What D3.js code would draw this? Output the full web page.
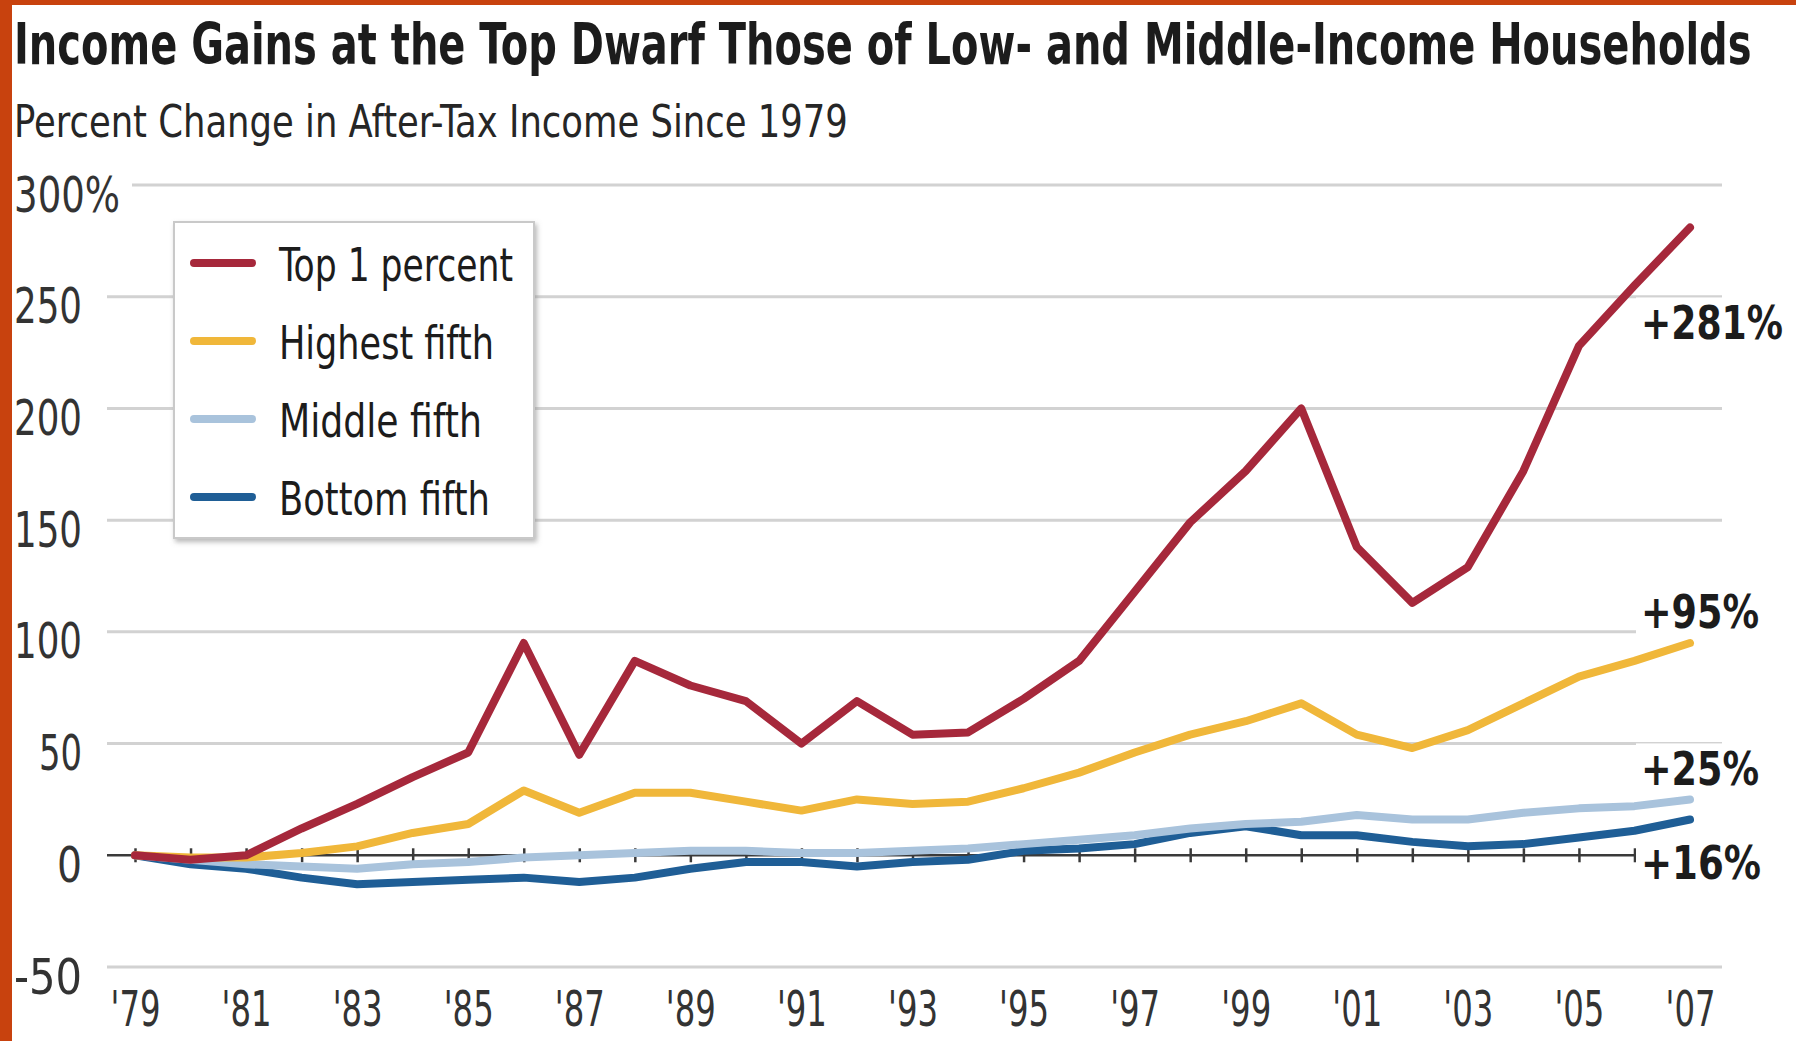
<!DOCTYPE html>
<html>
<head>
<meta charset="utf-8">
<script src="https://cdn.jsdelivr.net/npm/d3@7"></script>
<style>
  body { margin: 0; background: #fff; }
  text { font-family: "Liberation Sans Narrow", "Arial Narrow", "DejaVu Sans Condensed", "Roboto Condensed", sans-serif; fill: #1c1c1c; }
</style>
</head>
<body>
<svg id="chart" width="1796" height="1041"></svg>
<script>
// data (percent change since 1979)
const years = [1979, 1980, 1981, 1982, 1983, 1984, 1985, 1986, 1987, 1988, 1989, 1990, 1991, 1992,
  1993, 1994, 1995, 1996, 1997, 1998, 1999, 2000, 2001, 2002, 2003, 2004, 2005, 2006, 2007];
const top1 = [0, -2, 0, 12, 23, 35, 46, 95, 45, 87, 76, 69, 50, 69,
  54, 55, 70, 87, 118, 149, 172, 200, 138, 113, 129, 172, 228, 255, 281];
const highestFifth = [0, -1, -1, 1, 4, 10, 14, 29, 19, 28, 28, 24, 20, 25,
  23, 24, 30, 37, 46, 54, 60, 68, 54, 48, 56, 68, 80, 87, 95];
const middleFifth = [0, -2, -4, -5, -6, -4, -3, -1, 0, 1, 2, 2, 1, 1,
  2, 3, 5, 7, 9, 12, 14, 15, 18, 16, 16, 19, 21, 22, 25];
const bottomFifth = [0, -4, -6, -10, -13, -12, -11, -10, -12, -10, -6, -3, -3, -5,
  -3, -2, 2, 3, 5, 10, 13, 9, 9, 6, 4, 5, 8, 11, 16];
const seriesNames = ["Top 1 percent", "Highest fifth", "Middle fifth", "Bottom fifth"];
const yTicks = [-50, 0, 50, 100, 150, 200, 250, 300];
const xLabelYears = [1979, 1981, 1983, 1985, 1987, 1989, 1991, 1993, 1995, 1997, 1999, 2001, 2003, 2005, 2007];

const title = "Income Gains at the Top Dwarf Those of Low- and Middle-Income Households";
const subtitle = "Percent Change in After-Tax Income Since 1979";

// styling
const colors = ["#a6283b", "#f0b73a", "#a9c3dc", "#1f5e96"];
const legendTextW = [234, 215, 203, 211];
const endLabelDy = [112, -15, -14, 59];   // baseline offset from line end
const endLabelW = [142, 118, 118, 120];

// squeeze text horizontally to a target width (the reference uses a condensed face)
function squeeze(sel, widthFn) {
  sel.each(function (d, i) {
    const w = this.getComputedTextLength();
    const s = widthFn(d, i) / w;
    const x0 = +this.getAttribute("x") || 0;
    this.setAttribute("x", 0);
    this.setAttribute("transform", `translate(${x0},0) scale(${s},1)`);
  });
}

const svg = d3.select("#chart");

// orange frame
svg.append("rect").attr("x", 0).attr("y", 0).attr("width", 12).attr("height", 1041).attr("fill", "#c8420e");
svg.append("rect").attr("x", 0).attr("y", 0).attr("width", 1796).attr("height", 5).attr("fill", "#c8420e");

svg.append("text").attr("x", 14).attr("y", 64)
  .attr("font-size", 57).attr("font-weight", "bold")
  .text(title)
  .call(squeeze, () => 1738);
svg.append("text").attr("x", 14).attr("y", 137)
  .attr("font-size", 45)
  .style("fill", "#262626")
  .text(subtitle)
  .call(squeeze, () => 834);

const x = d3.scaleLinear().domain([1979, 2007]).range([135, 1690]);
const y = d3.scaleLinear().domain([-50, 300]).range([967, 185]);

// gridlines
svg.append("g").selectAll("line")
  .data(yTicks.filter(d => d !== 0))
  .join("line")
  .attr("x1", d => d === 300 ? 132 : 107)
  .attr("x2", 1722)
  .attr("y1", d => y(d)).attr("y2", d => y(d))
  .attr("stroke", "#d2d2d2").attr("stroke-width", 3);

// zero axis with ticks across it
svg.append("line").attr("x1", 107).attr("x2", 1722)
  .attr("y1", y(0)).attr("y2", y(0))
  .attr("stroke", "#3a3a3a").attr("stroke-width", 2.5);
const tickAxis = svg.append("g").attr("transform", `translate(0,${y(0) - 7})`)
  .call(d3.axisBottom(x).tickValues(years).tickSize(14).tickFormat(""));
tickAxis.select(".domain").remove();
tickAxis.selectAll(".tick line").attr("stroke", "#3a3a3a").attr("stroke-width", 2.5);

// y labels
const yLabel = d => d === 300 ? "300%" : String(d);
const yLabelW = d => d === 300 ? 106 : ({1: 25, 2: 43, 3: 68})[String(d).length];
const yAxis = svg.append("g").attr("transform", "translate(82,0)")
  .call(d3.axisLeft(y).tickValues(yTicks).tickSize(0).tickPadding(0).tickFormat(yLabel));
yAxis.select(".domain").remove();
yAxis.selectAll("text")
  .attr("font-size", 50).attr("dy", "0.52em")
  .attr("x", d => d === 300 ? 38 : 0)
  .style("fill", "#333")
  .call(squeeze, yLabelW);

// x labels
const xAxis = svg.append("g").attr("transform", "translate(0,988)")
  .call(d3.axisBottom(x).tickValues(xLabelYears).tickSize(0).tickPadding(0)
    .tickFormat(d => "'" + String(d).slice(2)));
xAxis.select(".domain").remove();
xAxis.selectAll("text").attr("font-size", 50).attr("dy", "0.76em")
  .style("fill", "#333")
  .call(squeeze, () => 50);

// white knockouts behind the end labels
const series = [top1, highestFifth, middleFifth, bottomFifth];
const lastIdx = years.length - 1;
const endLabels = series.map((s, i) => ({
  text: "+" + s[lastIdx] + "%",
  yb: y(s[lastIdx]) + endLabelDy[i],
  w: endLabelW[i]
}));
svg.append("g").selectAll("rect")
  .data(endLabels)
  .join("rect")
  .attr("x", 1636).attr("y", d => d.yb - 42)
  .attr("width", 160).attr("height", 48)
  .attr("fill", "#fff");

// lines (bottom drawn first)
const line = d3.line().x((d, i) => x(years[i])).y(d => y(d));
const order = [3, 2, 1, 0];
svg.append("g").selectAll("path")
  .data(order)
  .join("path")
  .attr("d", i => line(series[i]))
  .attr("fill", "none")
  .attr("stroke", i => colors[i])
  .attr("stroke-width", 8)
  .attr("stroke-linejoin", "round")
  .attr("stroke-linecap", "round");

svg.append("g").selectAll("text")
  .data(endLabels)
  .join("text")
  .attr("x", 1641).attr("y", d => d.yb)
  .attr("font-size", 47).attr("font-weight", "bold")
  .text(d => d.text)
  .call(squeeze, d => d.w);

// legend
const defs = svg.append("defs");
const f = defs.append("filter").attr("id", "shadow").attr("x", "-5%").attr("y", "-5%").attr("width", "115%").attr("height", "115%");
f.append("feDropShadow").attr("dx", 2).attr("dy", 3).attr("stdDeviation", 2.5)
  .attr("flood-color", "#888").attr("flood-opacity", 0.6);

const legend = svg.append("g").attr("transform", "translate(174,222)");
legend.append("rect").attr("width", 360).attr("height", 316)
  .attr("fill", "#fff").attr("stroke", "#c9c9c9").attr("stroke-width", 2)
  .attr("filter", "url(#shadow)");
const items = legend.selectAll("g.item")
  .data(seriesNames)
  .join("g").attr("class", "item")
  .attr("transform", (d, i) => `translate(0,${41 + i * 78})`);
items.append("line").attr("x1", 20).attr("x2", 78)
  .attr("stroke", (d, i) => colors[i]).attr("stroke-width", 8).attr("stroke-linecap", "round");
items.append("text").attr("x", 105).attr("y", 18)
  .attr("font-size", 47)
  .text(d => d)
  .call(squeeze, (d, i) => legendTextW[i]);
</script>
</body>
</html>
